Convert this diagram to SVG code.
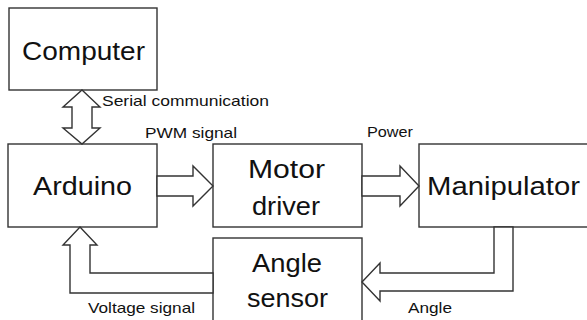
<svg xmlns="http://www.w3.org/2000/svg" width="587" height="320" viewBox="0 0 587 320">
<style>
.box{fill:#fff;stroke:#333;stroke-width:1.4}
.arr{fill:#fff;stroke:#333;stroke-width:1.4;stroke-linejoin:miter}
.big{font-family:"Liberation Sans",Arial,sans-serif;font-size:25px;fill:#111}
.lbl{font-family:"Liberation Sans",Arial,sans-serif;font-size:15px;fill:#111}
</style>
<rect width="587" height="320" fill="#fff"/>
<g id="computer">
<rect class="box" x="9" y="8" width="148" height="82"/>
<text class="big" x="22" y="60" textLength="123" lengthAdjust="spacingAndGlyphs">Computer</text>
</g>
<g id="arduino">
<rect class="box" x="8" y="144" width="149" height="83"/>
<text class="big" x="33" y="195" textLength="99" lengthAdjust="spacingAndGlyphs">Arduino</text>
</g>
<g id="motor-driver">
<rect class="box" x="213" y="144" width="149" height="83"/>
<text class="big" x="248" y="178" textLength="77" lengthAdjust="spacingAndGlyphs">Motor</text>
<text class="big" x="252" y="215" textLength="68" lengthAdjust="spacingAndGlyphs">driver</text>
</g>
<g id="manipulator">
<rect class="box" x="419" y="144" width="180" height="83"/>
<text class="big" x="427" y="195" textLength="153" lengthAdjust="spacingAndGlyphs">Manipulator</text>
</g>
<g id="angle-sensor">
<rect class="box" x="213" y="238" width="149" height="90"/>
<text class="big" x="252" y="272" textLength="70" lengthAdjust="spacingAndGlyphs">Angle</text>
<text class="big" x="247" y="307" textLength="81" lengthAdjust="spacingAndGlyphs">sensor</text>
</g>
<g id="connectors">
<polygon class="arr" points="82,90 100,107 92,107 92,128 100,128 82,144 63,128 72,128 72,107 63,107"/>
<polygon class="arr" points="157,176 193,176 193,166 213,186 193,206 193,196 157,196"/>
<polygon class="arr" points="362,176 400,176 400,166 419,186 400,206 400,196 362,196"/>
<polygon class="arr" points="494,227 494,273 380,273 380,263 362,282 380,301 380,291 513,291 513,227"/>
<polygon class="arr" points="213,273 90,273 90,245 97,245 80,227 63,245 70,245 70,293 213,293"/>
<text class="lbl" x="102" y="106" textLength="167" lengthAdjust="spacingAndGlyphs">Serial communication</text>
<text class="lbl" x="145" y="138" textLength="92" lengthAdjust="spacingAndGlyphs">PWM signal</text>
<text class="lbl" x="367" y="137" textLength="46" lengthAdjust="spacingAndGlyphs">Power</text>
<text class="lbl" x="88" y="313" textLength="107" lengthAdjust="spacingAndGlyphs">Voltage signal</text>
<text class="lbl" x="408" y="313" textLength="44" lengthAdjust="spacingAndGlyphs">Angle</text>
</g>
</svg>
